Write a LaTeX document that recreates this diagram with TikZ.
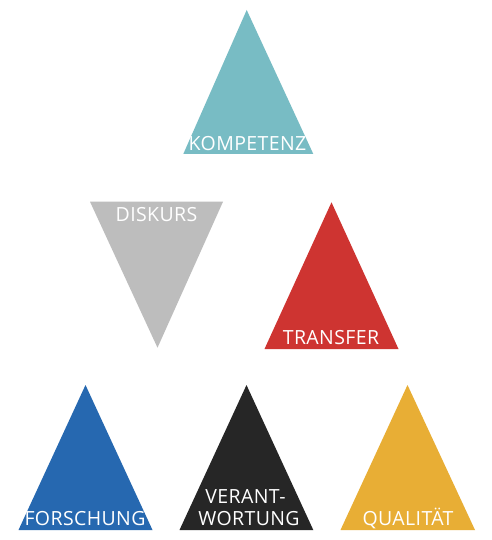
\documentclass[tikz,border=0pt]{standalone}
\usepackage{fontspec}
\setmainfont{Open Sans}
\newfontfamily\lblfont[LetterSpace=2]{Open Sans}
\definecolor{cteal}{HTML}{78BCC4}
\definecolor{cgrey}{HTML}{BDBDBD}
\definecolor{cred}{HTML}{CE3431}
\definecolor{cblue}{HTML}{2668B0}
\definecolor{cblack}{HTML}{262626}
\definecolor{cyellow}{HTML}{E8AE35}
\tikzset{
  lbl/.style={text=white, anchor=base, inner sep=0pt, font=\lblfont\fontsize{19.5}{22}\selectfont},
}
\begin{document}
\begin{tikzpicture}[x=1pt,y=-1pt]
\useasboundingbox[fill=white] (0,0) rectangle (491,540);
% triangles
\fill[cteal] (246.7,10) -- (313.3,154) -- (183.3,154) -- cycle;
\fill[cgrey] (90,201.7) -- (223,201.7) -- (157.5,347.7) -- cycle;
\fill[cred] (331.5,202.3) -- (398.5,349) -- (264.5,349) -- cycle;
\fill[cblue] (85.5,385) -- (152.5,530) -- (18.5,530) -- cycle;
\fill[cblack] (246.5,385) -- (313.3,530) -- (179.5,530) -- cycle;
\fill[cyellow] (407.5,385) -- (475,530) -- (340.5,530) -- cycle;
% labels
\node[lbl] (kompetenz) at (247.5,150) {KOMPETENZ};
\node[lbl] (diskurs) at (156.5,221) {DISKURS};
\node[lbl] (transfer) at (331,344) {TRANSFER};
\node[lbl] (forschung) at (85,525.7) {FORSCHUNG};
\node[lbl] (verant) at (245.5,503.3) {VERANT-};
\node[lbl] (wortung) at (249,525.7) {WORTUNG};
\node[lbl] (qualitaet) at (408,525.7) {QUALITÄT};
\end{tikzpicture}
\end{document}
